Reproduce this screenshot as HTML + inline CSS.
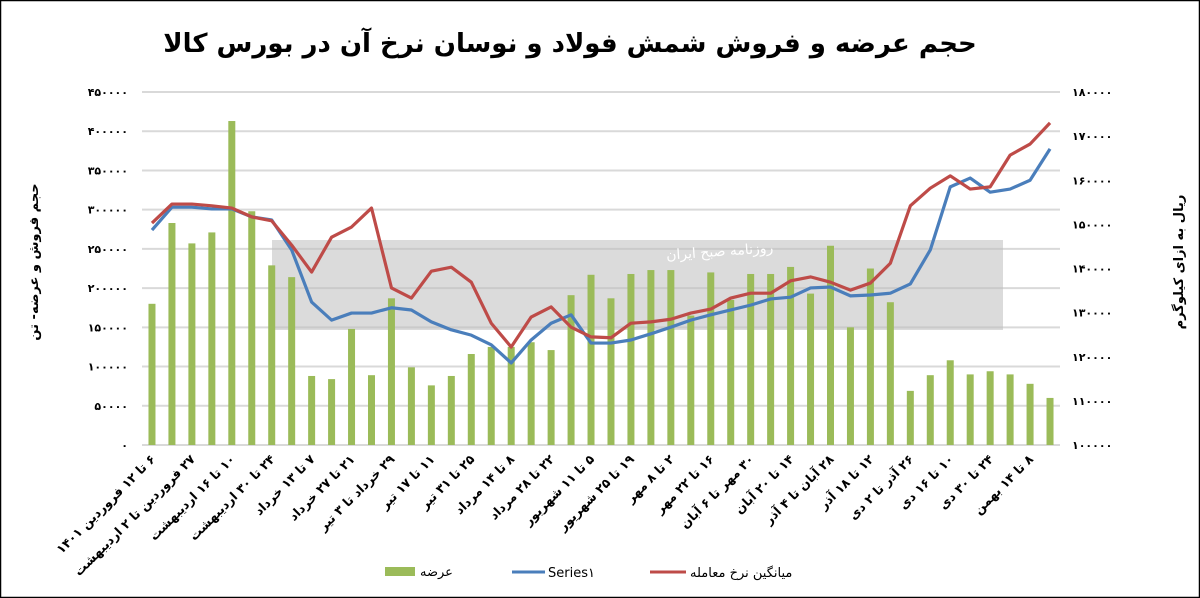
<!DOCTYPE html>
<html><head><meta charset="utf-8"><style>
html,body{margin:0;padding:0;background:#fff}
svg{display:block;font-family:"DejaVu Sans","Liberation Sans",sans-serif}
</style></head><body>
<svg id="chart" width="1200" height="598" viewBox="0 0 1200 598" xmlns="http://www.w3.org/2000/svg">
<rect x="0.5" y="0.5" width="1199" height="597" fill="#fff" stroke="#000" stroke-width="1.5"/>
<text x="570" y="52" text-anchor="middle" direction="rtl" font-size="26" font-weight="bold" fill="#000" text-anchor="middle">حجم عرضه و فروش شمش فولاد و نوسان نرخ آن در بورس کالا</text>
<g id="grid"></g>
<g id="wm">
<rect x="272" y="240" width="731" height="90" fill="#bdbdbd" opacity="0.55"/>
<text x="720" y="256" text-anchor="middle" font-size="14" fill="#fff" transform="rotate(-4 720 256)">روزنامه صبح ایران</text>
</g>
<g id="bars"></g>
<g id="lines"></g>
<g id="yl"></g>
<g id="yr"></g>
<g id="xl"></g>
<text transform="translate(38 262) rotate(-90)" direction="rtl" text-anchor="middle" font-size="13" font-weight="bold">حجم فروش و عرضه- تن</text>
<text transform="translate(1183 262) rotate(-90)" direction="rtl" text-anchor="middle" font-size="13" font-weight="bold">ریال به ازای کیلوگرم</text>
<g>
<g><rect x="385" y="567" width="30" height="9" fill="#9bbb59"/><text x="420" y="576" font-size="13">عرضه</text></g>
<g><line x1="512" y1="572" x2="545" y2="572" stroke="#4a7ebb" stroke-width="3"/><text x="548" y="577" font-size="13">Series۱</text></g>
<g><line x1="650" y1="572" x2="686" y2="572" stroke="#be4b48" stroke-width="3"/><text x="690" y="577" font-size="13">میانگین نرخ معامله</text></g>
</g>
</svg>
<script>
const supply=[180000,283000,257000,271000,413000,298000,229000,214000,88000,84000,148000,89000,187000,99000,76000,88000,116000,125000,125000,131000,121000,191000,217000,187000,218000,223000,223000,165000,220000,185000,218000,218000,227000,193000,254000,150000,225000,182000,69000,89000,108000,90000,94000,90000,78000,60000];
const series1=[148700,153900,153900,153500,153500,151700,151000,144200,132400,128300,129900,129900,131100,130600,127900,126100,124900,122700,118600,123800,127600,129500,123100,123100,123800,125200,126700,128300,129500,130600,131700,133100,133500,135600,135800,133800,134000,134400,136500,144200,158500,160500,157300,158000,160000,167100];
const avgPrice=[150300,154600,154600,154200,153700,151700,150800,145300,139200,147100,149400,153700,135600,133300,139400,140300,136900,127600,122200,129000,131300,126700,124500,124300,127600,127900,128500,129900,130800,133300,134400,134400,137200,138100,136900,135100,136700,141200,154200,158200,161000,158000,158500,165700,168200,173000];
const xLabels=["۶ تا ۱۲ فروردین ۱۴۰۱","۲۷ فروردین تا ۲ اردیبهشت","۱۰ تا ۱۶ اردیبهشت","۲۴ تا ۳۰ اردیبهشت","۷ تا ۱۳ خرداد","۲۱ تا ۲۷ خرداد","۲۹ خرداد تا ۳ تیر","۱۱ تا ۱۷ تیر","۲۵ تا ۳۱ تیر","۸ تا ۱۴ مرداد","۲۲ تا ۲۸ مرداد","۵ تا ۱۱ شهریور","۱۹ تا ۲۵ شهریور","۲ تا ۸ مهر","۱۶ تا ۲۲ مهر","۳۰ مهر تا ۶ آبان","۱۴ تا ۲۰ آبان","۲۸ آبان تا ۴ آذر","۱۲ تا ۱۸ آذر","۲۶ آذر تا ۲ دی","۱۰ تا ۱۶ دی","۲۴ تا ۳۰ دی","۸ تا ۱۴ بهمن"];
const leftTicks=["٠","۵۰۰۰۰","۱۰۰۰۰۰","۱۵۰۰۰۰","۲۰۰۰۰۰","۲۵۰۰۰۰","۳۰۰۰۰۰","۳۵۰۰۰۰","۴۰۰۰۰۰","۴۵۰۰۰۰"];
const rightTicks=["۱۰۰۰۰۰","۱۱۰۰۰۰","۱۲۰۰۰۰","۱۳۰۰۰۰","۱۴۰۰۰۰","۱۵۰۰۰۰","۱۶۰۰۰۰","۱۷۰۰۰۰","۱۸۰۰۰۰"];
const NS="http://www.w3.org/2000/svg";
const X0=142,X1=1060,Y0=445,Y1=92;
const n=supply.length,step=(X1-X0)/n;
const xc=i=>X0+step*(i+0.5);
const yL=v=>Y0-(v/450000)*(Y0-Y1);
const yR=v=>Y0-((v-100000)/80000)*(Y0-Y1);
function mk(t,a,p){const e=document.createElementNS(NS,t);for(const k in a)e.setAttribute(k,a[k]);p.appendChild(e);return e;}
const grid=document.getElementById('grid');
for(let i=0;i<leftTicks.length;i++){const y=yL(i*50000);
const g=mk('line',{x1:X0,x2:X1,y1:y,y2:y,stroke:'#d9d9d9','stroke-width':2},grid);


const t=mk('text',{x:128,y:y+4,'text-anchor':'end','font-size':11,'font-weight':'bold'},document.getElementById('yl'));t.textContent=leftTicks[i];

}
for(let i=0;i<rightTicks.length;i++){const y=yR(100000+i*10000);
const t=mk('text',{x:1072,y:y+4,'font-size':11,'font-weight':'bold'},document.getElementById('yr'));t.textContent=rightTicks[i];

}
const bars=document.getElementById('bars');
supply.forEach((v,i)=>{const b=mk('rect',{x:xc(i)-3.5,y:yL(v),width:7,height:Y0-yL(v),fill:'#9bbb59'},bars);

});
const lines=document.getElementById('lines');
function line(arr,col,name){const p=mk('polyline',{points:arr.map((v,i)=>xc(i)+','+yR(v)).join(' '),fill:'none',stroke:col,'stroke-width':3.2,'stroke-linejoin':'round'},lines);

}
line(series1,'#4a7ebb','series1-line');
line(avgPrice,'#be4b48','avg-price-line');
const xl=document.getElementById('xl');
xLabels.forEach((s,k)=>{const x=xc(k*2)+4,y=460;
const t=mk('text',{x:x,y:y,direction:'rtl','text-anchor':'start','font-size':12.5,'font-weight':'bold',transform:`rotate(-45 ${x} ${y})`},xl);t.textContent=s;

});
</script>
</body></html>
